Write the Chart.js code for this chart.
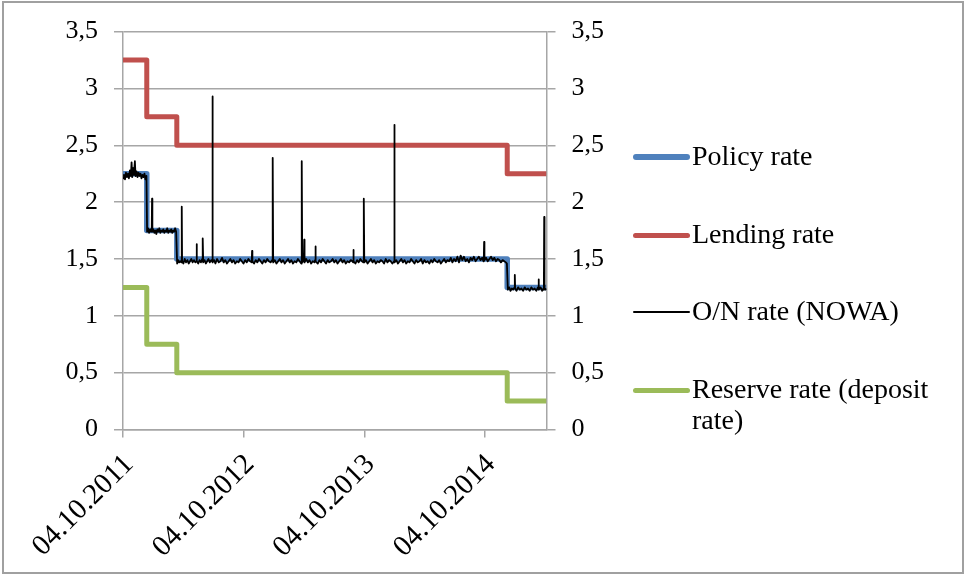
<!DOCTYPE html>
<html>
<head>
<meta charset="utf-8">
<script src="https://cdn.jsdelivr.net/npm/chart.js@4.4.1/dist/chart.umd.min.js"></script>
<style>
  body { margin: 0; background: #fff; }
  #wrap { position: relative; width: 965px; height: 575px; overflow: hidden; }
  #chart { position: absolute; left: 0; top: 0; }
  #frame { position: absolute; left: 2px; top: 1px; width: 958px; height: 569px; border: 2px solid #a0a0a0; pointer-events: none; }
  .lg-line { position: absolute; left: 633px; width: 57px; border-radius: 3px; }
  .lg-text { position: absolute; left: 692px; width: 262px; font: 28px "Liberation Serif", serif; line-height: 31px; color: #000; }
</style>
</head>
<body>
<div id="wrap">
  <canvas id="chart" width="965" height="575"></canvas>
  <div id="legend"></div>
  <div id="frame"></div>
</div>
<script>
// days counted from 04.10.2011
const xTickDays = [0, 366, 731, 1096];
const xTickLabels = ['04.10.2011', '04.10.2012', '04.10.2013', '04.10.2014'];
const lastDay = 1283;

// key rates (change dates)
const rateDays    = [0, 72, 163, 1164, 1283];
const policyRate  = [2.25, 1.75, 1.50, 1.25, 1.25];
const lendingRate = [3.25, 2.75, 2.50, 2.25, 2.25];
const reserveRate = [1.25, 0.75, 0.50, 0.25, 0.25];

// overnight rate
const nowaDays = [
  0, 3, 6, 9, 12, 15, 18, 21, 24, 26,
  28, 31, 33, 36, 38, 41, 44, 47, 50, 53,
  56, 59, 62, 65, 68, 71, 73, 76, 79, 82,
  85, 87, 88, 89, 92, 95, 98, 101, 104, 107,
  110, 113, 116, 119, 122, 125, 128, 131, 134, 137,
  140, 143, 146, 149, 152, 155, 158, 161, 164, 167,
  170, 173, 177, 178, 179, 183, 187, 191, 195, 199,
  203, 207, 211, 215, 219, 222, 223, 224, 228, 232,
  236, 240, 241, 242, 243, 247, 251, 255, 259, 263,
  267, 270, 271, 272, 276, 280, 285, 290, 295, 300,
  305, 310, 315, 320, 325, 330, 335, 340, 345, 350,
  355, 360, 365, 370, 375, 380, 385, 390, 391, 392,
  397, 402, 407, 412, 417, 422, 427, 432, 437, 442,
  447, 452, 453, 454, 455, 460, 465, 470, 475, 480,
  485, 490, 495, 500, 505, 510, 515, 520, 525, 530,
  535, 540, 541, 542, 543, 547, 548, 549, 550, 555,
  560, 565, 570, 575, 580, 582, 583, 584, 590, 595,
  600, 605, 610, 615, 620, 625, 630, 635, 640, 645,
  650, 655, 660, 665, 670, 675, 680, 685, 690, 695,
  697, 698, 699, 704, 709, 714, 719, 724, 728, 729,
  730, 731, 736, 741, 746, 751, 756, 761, 766, 771,
  776, 781, 786, 791, 796, 801, 806, 811, 816, 821,
  822, 823, 828, 833, 838, 843, 848, 853, 858, 863,
  868, 873, 878, 883, 888, 893, 898, 903, 908, 913,
  918, 923, 928, 933, 938, 943, 948, 953, 958, 963,
  968, 973, 978, 983, 988, 993, 998, 1003, 1008, 1013,
  1018, 1023, 1028, 1033, 1038, 1043, 1048, 1053, 1058, 1063,
  1068, 1073, 1078, 1083, 1088, 1092, 1093, 1094, 1095, 1100,
  1105, 1110, 1115, 1120, 1125, 1130, 1135, 1140, 1145, 1150,
  1155, 1160, 1163, 1166, 1170, 1174, 1178, 1182, 1186, 1187,
  1188, 1192, 1197, 1202, 1207, 1212, 1217, 1222, 1227, 1232,
  1237, 1242, 1247, 1252, 1257, 1258, 1259, 1260, 1265, 1270,
  1274, 1275, 1276, 1277, 1280, 1283
];
const nowaRate = [
  2.21, 2.24, 2.20, 2.26, 2.22, 2.25, 2.21, 2.28, 2.23, 2.35,
  2.22, 2.30, 2.24, 2.36, 2.23, 2.27, 2.22, 2.26, 2.23, 2.25,
  2.21, 2.24, 2.22, 2.25, 2.20, 2.23, 1.74, 1.77, 1.73, 1.76,
  1.74, 1.75, 2.03, 1.74, 1.76, 1.73, 1.75, 1.72, 1.76, 1.74,
  1.77, 1.73, 1.75, 1.74, 1.76, 1.73, 1.75, 1.74, 1.77, 1.73,
  1.75, 1.74, 1.76, 1.73, 1.75, 1.74, 1.77, 1.74, 1.46, 1.49,
  1.47, 1.48, 1.47, 1.96, 1.48, 1.46, 1.50, 1.47, 1.49, 1.46,
  1.48, 1.50, 1.47, 1.49, 1.47, 1.48, 1.63, 1.48, 1.46, 1.49,
  1.47, 1.50, 1.48, 1.68, 1.47, 1.49, 1.46, 1.48, 1.50, 1.47,
  1.49, 1.48, 2.93, 1.47, 1.49, 1.46, 1.50, 1.47, 1.48, 1.51,
  1.47, 1.49, 1.46, 1.48, 1.50, 1.47, 1.49, 1.46, 1.48, 1.47,
  1.50, 1.48, 1.46, 1.49, 1.47, 1.50, 1.48, 1.47, 1.57, 1.48,
  1.46, 1.49, 1.47, 1.50, 1.48, 1.46, 1.49, 1.47, 1.50, 1.48,
  1.47, 1.49, 1.48, 2.39, 1.47, 1.49, 1.46, 1.48, 1.50, 1.47,
  1.49, 1.46, 1.48, 1.50, 1.47, 1.49, 1.46, 1.48, 1.47, 1.50,
  1.48, 1.46, 1.48, 2.36, 1.47, 1.49, 1.48, 1.67, 1.47, 1.50,
  1.47, 1.49, 1.46, 1.48, 1.47, 1.49, 1.61, 1.48, 1.46, 1.49,
  1.47, 1.50, 1.48, 1.46, 1.49, 1.47, 1.48, 1.50, 1.47, 1.49,
  1.46, 1.48, 1.50, 1.47, 1.49, 1.46, 1.48, 1.47, 1.49, 1.48,
  1.47, 1.58, 1.48, 1.46, 1.49, 1.47, 1.50, 1.48, 1.47, 1.48,
  2.03, 1.47, 1.49, 1.46, 1.48, 1.50, 1.47, 1.49, 1.46, 1.48,
  1.47, 1.49, 1.48, 1.46, 1.50, 1.47, 1.49, 1.48, 1.46, 1.48,
  2.68, 1.47, 1.49, 1.46, 1.48, 1.50, 1.47, 1.49, 1.46, 1.48,
  1.47, 1.50, 1.48, 1.46, 1.49, 1.47, 1.48, 1.50, 1.46, 1.49,
  1.47, 1.48, 1.46, 1.49, 1.47, 1.50, 1.48, 1.47, 1.49, 1.46,
  1.48, 1.50, 1.47, 1.49, 1.48, 1.51, 1.47, 1.50, 1.48, 1.52,
  1.47, 1.53, 1.49, 1.52, 1.48, 1.50, 1.47, 1.51, 1.49, 1.52,
  1.48, 1.50, 1.52, 1.49, 1.51, 1.48, 1.50, 1.65, 1.49, 1.51,
  1.48, 1.50, 1.52, 1.49, 1.51, 1.48, 1.50, 1.49, 1.47, 1.49,
  1.48, 1.47, 1.46, 1.23, 1.25, 1.22, 1.24, 1.23, 1.25, 1.36,
  1.24, 1.22, 1.25, 1.23, 1.24, 1.22, 1.25, 1.23, 1.24, 1.22,
  1.25, 1.23, 1.24, 1.22, 1.25, 1.24, 1.32, 1.23, 1.25, 1.22,
  1.24, 1.23, 1.87, 1.24, 1.23, 1.24
];

function points(days, vals) {
  return days.map((d, i) => ({ x: d, y: vals[i] }));
}

const gridColor = '#a6a6a6';
Chart.defaults.font.family = '"Liberation Serif", serif';
Chart.defaults.font.size = 26;
Chart.defaults.color = '#000';

const ctx = document.getElementById('chart').getContext('2d');
const myChart = new Chart(ctx, {
  type: 'line',
  data: {
    datasets: [
      { label: 'Policy rate', data: points(rateDays, policyRate), borderColor: '#4f81bd', borderWidth: 5.5, stepped: true, order: 1 },
      { label: 'Lending rate', data: points(rateDays, lendingRate), borderColor: '#c0504d', borderWidth: 5, stepped: true, order: 1 },
      { label: 'O/N rate (NOWA)', data: points(nowaDays, nowaRate), borderColor: '#000000', borderWidth: 1.8, order: 0 },
      { label: 'Reserve rate (deposit rate)', data: points(rateDays, reserveRate), borderColor: '#9bbb59', borderWidth: 5, stepped: true, order: 1 }
    ]
  },
  options: {
    responsive: false,
    animation: false,
    events: [],
    layout: { padding: { left: 0, right: 338.5, top: 30, bottom: 5.5 } },
    elements: {
      point: { radius: 0 },
      line: { tension: 0, borderJoinStyle: 'round', borderCapStyle: 'butt', fill: false }
    },
    plugins: { legend: { display: false }, tooltip: { enabled: false } },
    scales: {
      x: {
        type: 'linear',
        min: 0,
        max: lastDay,
        afterBuildTicks: s => { s.ticks = xTickDays.map(v => ({ value: v })); },
        afterFit: s => { s.height = 140; },
        ticks: {
          autoSkip: false,
          minRotation: 45,
          maxRotation: 45,
          padding: 10,
          labelOffset: 6,
          font: { size: 29 },
          callback: (v, i) => xTickLabels[i]
        },
        grid: { drawOnChartArea: false, color: gridColor, lineWidth: 1.5, tickLength: 8 },
        border: { color: gridColor, width: 1.5 }
      },
      y: {
        position: 'left',
        min: 0,
        max: 3.5,
        afterFit: s => { s.width = 123; },
        ticks: { stepSize: 0.5, padding: 16, callback: v => String(v).replace('.', ',') },
        grid: { color: gridColor, lineWidth: 1.5, tickLength: 9 },
        border: { color: gridColor, width: 1.5 }
      },
      y2: {
        position: 'right',
        min: 0,
        max: 3.5,
        afterFit: s => { s.width = 80; },
        ticks: { stepSize: 0.5, padding: 16, callback: v => String(v).replace('.', ',') },
        grid: { drawOnChartArea: false, color: gridColor, lineWidth: 1.5, tickLength: 9 },
        border: { color: gridColor, width: 1.5 }
      }
    }
  }
});

// legend on the right
const legendY = [157, 235, 312, 390];
const legend = document.getElementById('legend');
myChart.data.datasets.forEach((ds, i) => {
  const line = document.createElement('div');
  line.className = 'lg-line';
  const h = Math.max(ds.borderWidth, 1.5);
  line.style.height = h + 'px';
  line.style.top = (legendY[i] - h / 2) + 'px';
  line.style.background = ds.borderColor;
  legend.appendChild(line);
  const txt = document.createElement('div');
  txt.className = 'lg-text';
  txt.style.top = (legendY[i] - 17) + 'px';
  txt.textContent = ds.label;
  legend.appendChild(txt);
});
</script>
</body>
</html>
